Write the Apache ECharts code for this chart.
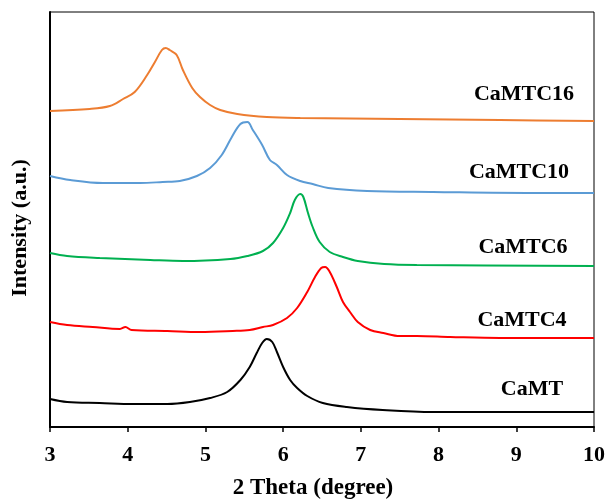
<!DOCTYPE html>
<html><head><meta charset="utf-8">
<script src="https://cdn.jsdelivr.net/npm/echarts@6/dist/echarts.min.js"></script>
<style>html,body{margin:0;padding:0;background:#fff}#c{width:608px;height:499px}</style>
</head><body><div id="c"></div>
<script>
// 2θ (degree) and intensity (a.u.) arrays per sample
const xTicks = [3,4,5,6,7,8,9,10];
const camtc16X = [3.00,3.51,3.77,3.94,4.09,4.25,4.35,4.44,4.49,4.54,4.63,4.71,4.83,4.93,5.06,5.19,5.41,5.79,6.22,7.50,8.79,10.00];
const camtc16Y = [316,318,321,328,335,352,365,377,379,377,372,357,339,330,322,317,313,310,309,308,307,306];
const camtc10X = [3.00,3.26,3.68,4.16,4.45,4.67,4.89,5.06,5.21,5.34,5.45,5.54,5.61,5.73,5.83,5.92,6.05,6.22,6.38,6.58,7.08,7.93,9.22,10.00];
const camtc10Y = [251,247,244,244,245,246,251,259,272,290,303,305,297,282,267,262,252,246,243,239,236,235,234,234];
const camtc6X = [3.00,3.22,3.64,4.29,4.71,5.32,5.54,5.74,5.87,6.00,6.09,6.15,6.22,6.26,6.32,6.38,6.47,6.60,6.77,6.96,7.30,7.72,10.00];
const camtc6Y = [174,171,169,167,166,168,171,176,184,199,214,227,233,230,214,200,185,175,170,166,163,162,161];
const camtc4X = [3.00,3.22,3.55,3.90,3.97,4.05,4.51,4.93,5.35,5.57,5.74,5.87,6.05,6.18,6.31,6.41,6.49,6.54,6.60,6.69,6.77,6.86,6.96,7.12,7.29,7.50,7.72,8.15,8.79,10.00];
const camtc4Y = [105,102,100,98,100,97,96,95,96,97,100,102,109,119,135,150,159,160,155,140,125,115,105,97,94,91,91,90,89,89];
const camtX = [3.00,3.22,3.64,4.07,4.51,4.80,5.06,5.28,5.45,5.57,5.66,5.73,5.79,5.86,5.92,6.00,6.09,6.18,6.31,6.51,6.82,7.28,7.93,10.00];
const camtY = [28,25,24,23,23,25,29,35,47,60,74,84,88,85,75,60,47,39,31,24,20,17,15,15];
const seriesNames = ['CaMTC16','CaMTC10','CaMTC6','CaMTC4','CaMT'];

const colors = ['#ED7D31','#5B9BD5','#00B050','#FF0000','#000000'];
const xs = [camtc16X,camtc10X,camtc6X,camtc4X,camtX];
const ys = [camtc16Y,camtc10Y,camtc6Y,camtc4Y,camtY];
const font = '"Liberation Serif","Times New Roman",serif';
const labelPos = [[524,94],[519,172],[523,247],[522,320],[532,389]];

const chart = echarts.init(document.getElementById('c'));
chart.setOption({
  animation:false,
  backgroundColor:'#fff',
  grid:{left:50,right:14,top:12,bottom:72,show:true,borderColor:'#000',borderWidth:1},
  xAxis:{type:'value',min:3,max:10,interval:1,
    axisLine:{lineStyle:{color:'#000',width:2}},
    axisTick:{show:true,inside:false,length:5,lineStyle:{color:'#000',width:1.5}},
    axisLabel:{color:'#000',fontFamily:font,fontWeight:'bold',fontSize:22,margin:17},
    splitLine:{show:false}},
  yAxis:{type:'value',min:0,max:415,
    axisLine:{show:true,lineStyle:{color:'#000',width:2}},
    axisTick:{show:false},axisLabel:{show:false},splitLine:{show:false}},
  series: seriesNames.map((n,i)=>({
    name:n,type:'line',showSymbol:false,smooth:0.35,
    data: xs[i].map((x,j)=>[x,ys[i][j]]),
    lineStyle:{color:colors[i],width:2},itemStyle:{color:colors[i]}
  })),
  graphic: seriesNames.map((n,i)=>({
    type:'text',x:labelPos[i][0],y:labelPos[i][1],
    style:{text:n,fill:'#000',font:'bold 22px '+font,textAlign:'center',textVerticalAlign:'middle'}
  })).concat([
    {type:'text',x:313,y:488,style:{text:'2 Theta (degree)',fill:'#000',font:'bold 23px '+font,textAlign:'center',textVerticalAlign:'middle'}},
    {type:'text',x:20,y:228,rotation:Math.PI/2,style:{text:'Intensity (a.u.)',fill:'#000',font:'bold 22px '+font,textAlign:'center',textVerticalAlign:'middle'}}
  ])
});
</script></body></html>
